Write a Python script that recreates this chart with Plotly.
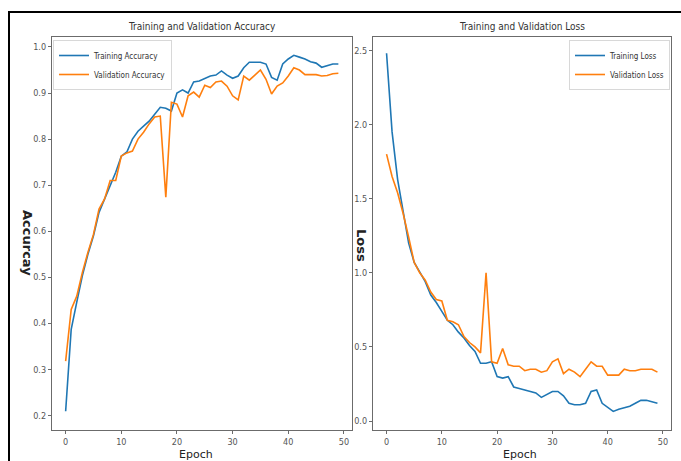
import plotly.graph_objects as go

epochs = list(range(50))

train_acc = [0.209, 0.387, 0.446, 0.503, 0.550, 0.590, 0.641, 0.670, 0.700, 0.728,
             0.763, 0.772, 0.800, 0.817, 0.828, 0.839, 0.854, 0.869, 0.867, 0.861,
             0.900, 0.907, 0.900, 0.924, 0.926, 0.932, 0.937, 0.939, 0.948, 0.939,
             0.932, 0.937, 0.955, 0.967, 0.967, 0.967, 0.963, 0.934, 0.928, 0.963,
             0.974, 0.982, 0.978, 0.974, 0.968, 0.965, 0.956, 0.959, 0.963, 0.963]
val_acc = [0.318, 0.430, 0.459, 0.510, 0.554, 0.593, 0.648, 0.670, 0.710, 0.710,
           0.763, 0.770, 0.774, 0.800, 0.815, 0.833, 0.848, 0.850, 0.674, 0.880,
           0.876, 0.848, 0.894, 0.902, 0.891, 0.917, 0.912, 0.924, 0.926, 0.915,
           0.894, 0.885, 0.937, 0.928, 0.939, 0.950, 0.930, 0.898, 0.915, 0.922,
           0.937, 0.955, 0.950, 0.940, 0.940, 0.940, 0.937, 0.938, 0.942, 0.943]
train_loss = [2.48, 1.95, 1.63, 1.40, 1.20, 1.07, 1.00, 0.94, 0.85, 0.80,
              0.74, 0.68, 0.65, 0.60, 0.56, 0.51, 0.47, 0.39, 0.39, 0.40,
              0.30, 0.29, 0.30, 0.23, 0.22, 0.21, 0.20, 0.19, 0.16, 0.18,
              0.20, 0.20, 0.17, 0.12, 0.11, 0.11, 0.12, 0.20, 0.21, 0.12,
              0.09, 0.065, 0.08, 0.09, 0.10, 0.12, 0.14, 0.14, 0.13, 0.12]
val_loss = [1.80, 1.65, 1.54, 1.40, 1.24, 1.07, 1.00, 0.95, 0.87, 0.82,
            0.81, 0.68, 0.67, 0.65, 0.57, 0.53, 0.50, 0.46, 1.00, 0.40,
            0.39, 0.49, 0.38, 0.37, 0.37, 0.34, 0.35, 0.35, 0.33, 0.34,
            0.40, 0.42, 0.32, 0.35, 0.33, 0.30, 0.35, 0.40, 0.37, 0.37,
            0.31, 0.31, 0.31, 0.35, 0.34, 0.34, 0.35, 0.35, 0.35, 0.33]

acc_ticks = [0.2, 0.3, 0.4, 0.5, 0.6, 0.7, 0.8, 0.9, 1.0]
loss_ticks = [0.0, 0.5, 1.0, 1.5, 2.0, 2.5]
epoch_ticks = [0, 10, 20, 30, 40, 50]

BLUE = "#1f77b4"
ORANGE = "#ff7f0e"
W, H = 681, 461
NARROW = "Liberation Sans Narrow, Arial Narrow, DejaVu Sans Condensed, sans-serif"

fig = go.Figure()
fig.add_trace(go.Scatter(x=epochs, y=train_acc, mode="lines", name="Training Accuracy",
                         line=dict(color=BLUE, width=1.6), xaxis="x", yaxis="y", legend="legend"))
fig.add_trace(go.Scatter(x=epochs, y=val_acc, mode="lines", name="Validation Accuracy",
                         line=dict(color=ORANGE, width=1.6), xaxis="x", yaxis="y", legend="legend"))
fig.add_trace(go.Scatter(x=epochs, y=train_loss, mode="lines", name="Training Loss",
                         line=dict(color=BLUE, width=1.6), xaxis="x2", yaxis="y2", legend="legend2"))
fig.add_trace(go.Scatter(x=epochs, y=val_loss, mode="lines", name="Validation Loss",
                         line=dict(color=ORANGE, width=1.6), xaxis="x2", yaxis="y2", legend="legend2"))

def px_x(p):
    return p / W

def px_y(p):
    return 1 - p / H

ax_common = dict(showgrid=False, zeroline=False, showline=True, mirror=True,
                 linecolor="#6b6b6b", linewidth=1.2, ticks="outside", ticklen=3,
                 tickcolor="#6b6b6b", tickfont=dict(family=NARROW, size=9, color="#555555"))

legend_common = dict(bgcolor="rgba(255,255,255,0.9)", bordercolor="#d8d8d8", borderwidth=1,
                     font=dict(family=NARROW, size=8, color="#333333"),
                     tracegroupgap=0, itemwidth=30)

y_dom = [px_y(430), px_y(37)]
fig.update_layout(
    width=W, height=H, margin=dict(l=0, r=0, t=0, b=0),
    paper_bgcolor="white", plot_bgcolor="white",
    xaxis=dict(domain=[px_x(52), px_x(352)], range=[-2.45, 51.45], tickvals=epoch_ticks,
               anchor="y", **ax_common),
    yaxis=dict(domain=y_dom, range=[0.1683, 1.0217], tickvals=acc_ticks,
               tickformat=".1f", anchor="x", **ax_common),
    xaxis2=dict(domain=[px_x(373), px_x(671)], range=[-2.45, 51.45], tickvals=epoch_ticks,
                anchor="y2", **ax_common),
    yaxis2=dict(domain=y_dom, range=[-0.06, 2.59], tickvals=loss_ticks,
                tickformat=".1f", anchor="x2", **ax_common),
    legend=dict(x=px_x(53), y=px_y(40), xanchor="left", yanchor="top", **legend_common),
    legend2=dict(x=px_x(670), y=px_y(40), xanchor="right", yanchor="top", **legend_common),
    showlegend=True,
)

annotations = [
    dict(text="Training and Validation Accuracy", x=px_x(202), y=px_y(27), xref="paper", yref="paper",
         xanchor="center", yanchor="middle",
         showarrow=False, font=dict(family=NARROW, size=10, color="#333333")),
    dict(text="Training and Validation Loss", x=px_x(522), y=px_y(27), xref="paper", yref="paper",
         xanchor="center", yanchor="middle",
         showarrow=False, font=dict(family=NARROW, size=10, color="#333333")),
    dict(text="<b>Accurcay</b>", x=px_x(27), y=px_y(243), xref="paper", yref="paper",
         xanchor="center", yanchor="middle",
         showarrow=False, textangle=90, font=dict(family="DejaVu Sans", size=13, color="#222222")),
    dict(text="<b>Loss</b>", x=px_x(362), y=px_y(245), xref="paper", yref="paper",
         xanchor="center", yanchor="middle",
         showarrow=False, textangle=90, font=dict(family="DejaVu Sans", size=13, color="#222222")),
    dict(text="Epoch", x=px_x(196), y=px_y(454), xref="paper", yref="paper",
         xanchor="center", yanchor="middle", borderpad=0,
         showarrow=False, font=dict(family="DejaVu Sans", size=11, color="#222222")),
    dict(text="Epoch", x=px_x(520), y=px_y(454), xref="paper", yref="paper",
         xanchor="center", yanchor="middle", borderpad=0,
         showarrow=False, font=dict(family="DejaVu Sans", size=11, color="#222222")),
]
fig.update_layout(annotations=annotations)

fig.add_shape(type="rect", xref="paper", yref="paper",
              x0=px_x(9), x1=px_x(W + 5), y0=px_y(H + 5), y1=px_y(12),
              line=dict(color="black", width=2), fillcolor="rgba(0,0,0,0)", layer="above")

fig.write_html("out.html", config={"displayModeBar": False},
               post_script="document.body.style.margin='0';document.body.style.padding='0';")
